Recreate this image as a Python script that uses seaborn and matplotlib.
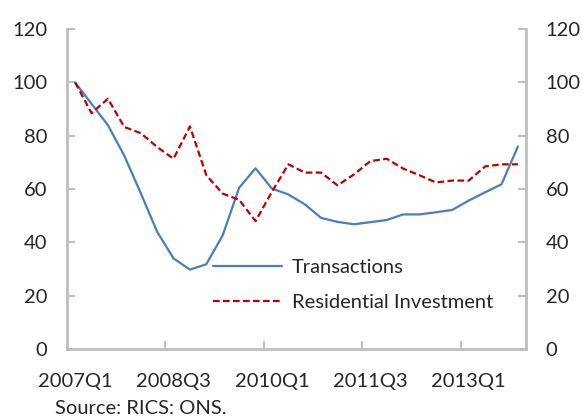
import seaborn as sns
import matplotlib.pyplot as plt
import pandas as pd

quarters = [f'{y}Q{q}' for y in range(2007, 2014) for q in range(1, 5)]

transactions = [100, 92, 84, 72.5, 58.5, 44, 34, 29.8, 31.8, 42.7, 60.5, 67.8,
                60.2, 58, 54.3, 49.2, 47.7, 46.8, 47.6, 48.4, 50.5, 50.5,
                51.3, 52.2, 55.7, 58.8, 61.8, 76]
res_investment = [100, 88.5, 93.9, 83.3, 81, 75.8, 71.4, 83.5, 65.2, 58.3, 56, 48,
                  59, 69.3, 66.2, 66.2, 61.4, 65.5, 70.5, 71.4, 67.7, 65.2,
                  62.5, 63.2, 63.2, 68.5, 69.3, 69.3]

tick_labels = ['2007Q1', '2008Q3', '2010Q1', '2011Q3', '2013Q1']
y_ticks = [0, 20, 40, 60, 80, 100, 120]

df = pd.DataFrame({'quarter': quarters, 'Transactions': transactions,
                   'Residential Investment': res_investment})
df['pos'] = range(len(df))

sns.set_style('white')
plt.rcParams['font.family'] = ['Lato', 'DejaVu Sans']
plt.rcParams['font.size'] = 14.5

fig = plt.figure(figsize=(5.82, 4.17), dpi=100)
ax = fig.add_axes([0.115, 0.163, 0.789, 0.767])

sns.lineplot(data=df, x='pos', y='Transactions', color='#4A7EBB', lw=1.6,
             label='Transactions', ax=ax)
sns.lineplot(data=df, x='pos', y='Residential Investment', color='#C00000', lw=1.6,
             label='Residential Investment', ax=ax)
ax.lines[1].set_dashes((3, 1.5))

ax.set_xlim(-0.5, len(quarters) - 0.5)
ax.set_ylim(0, 120)
ax.set_yticks(y_ticks)
ax.set_xticks([quarters.index(t) for t in tick_labels])
ax.set_xticklabels(tick_labels)
ax.set_xticks([i - 0.5 for i in range(6, len(quarters), 6)], minor=True)
ax.set_xlabel('')
ax.set_ylabel('')

for s in ax.spines.values():
    s.set_color('#BFBFBF')
    s.set_linewidth(2)
ax.spines['top'].set_visible(False)

ax.tick_params(axis='y', direction='in', length=6, width=1.5, color='#BFBFBF',
               left=True, right=True, labelleft=True, labelright=True, pad=14,
               labelsize=14.5)
ax.tick_params(axis='x', which='major', length=0, pad=17, labelsize=14.5)
ax.tick_params(axis='x', which='minor', direction='in', length=6, width=1.5,
               color='#BFBFBF', bottom=True)

leg = ax.legend(loc='center left', bbox_to_anchor=(0.279, 0.2), frameon=False,
                handlelength=3.4, handletextpad=0.5, labelspacing=0.9,
                fontsize=14.5)

fig.text(55 / 582, 1 - 408 / 417, 'Source: RICS: ONS.', fontsize=14.5,
         va='center', ha='left')

fig.savefig('out.png', dpi=100)
